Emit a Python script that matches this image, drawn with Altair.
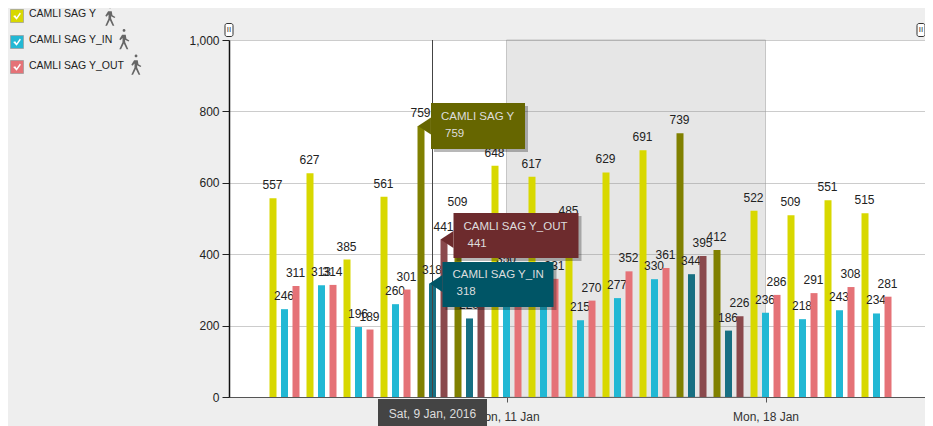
import altair as alt
import pandas as pd

days = pd.date_range("2016-01-05", periods=17, freq="D").strftime("%Y-%m-%d").tolist()
series_names = ["CAMLI SAG Y", "CAMLI SAG Y_IN", "CAMLI SAG Y_OUT"]
totals = [557, 627, 385, 561, 759, 509, 648, 617, 485, 629, 691, 739, 412, 522, 509, 551, 515]
ins = [246, 313, 196, 260, 318, 220, 350, 320, 215, 277, 330, 344, 186, 236, 218, 243, 234]
outs = [311, 314, 189, 301, 441, 280, 300, 331, 270, 352, 361, 395, 226, 286, 291, 308, 281]
tick_days = ["2016-01-11", "2016-01-18"]
band_start, band_end = "2016-01-11", "2016-01-18"
hover_day = "2016-01-09"
hover_label = "Sat, 9 Jan, 2016"
y_ticks = [0, 200, 400, 600, 800, 1000]

NORMAL = ["#d8d800", "#22b8d4", "#e57277"]
DARK = ["#808000", "#176f82", "#8a494c"]
TIP = ["#666600", "#005566", "#6d2b2d"]
FONT = "Liberation Sans"
PLOT_W, PLOT_H = 696, 357


def ms(s):
    return int(pd.Timestamp(s, tz="UTC").value // 10**6)


x_scale = alt.Scale(type="utc", nice=False, padding=0, domain=[ms("2016-01-03T12:00"), ms("2016-01-22T07:27")])
y_scale = alt.Scale(domain=[0, 1000], nice=False)
x_enc = alt.X(
    "day:T",
    scale=x_scale,
    title=None,
    axis=alt.Axis(
        values=[ms(d) for d in tick_days],
        labelExpr="utcFormat(datum.value, '%a, %-d %b')",
        grid=False,
        tickSize=5,
        tickColor="#555555",
        domainColor="#555555",
        labelColor="#333333",
        labelFont=FONT,
        labelFontSize=12,
        labelPadding=9,
        labelFlush=False,
    ),
)
y_enc = alt.Y(
    "value:Q",
    scale=y_scale,
    title=None,
    axis=alt.Axis(
        values=y_ticks,
        format=",d",
        grid=True,
        gridColor="#cccccc",
        tickSize=7,
        tickColor="#222222",
        domainColor="#111111",
        domainWidth=1.5,
        labelColor="#222222",
        labelFont=FONT,
        labelFontSize=12,
        labelPadding=3,
    ),
)

band = (
    alt.Chart(pd.DataFrame({"day": [band_start], "end": [band_end]}))
    .mark_rect(fill="#808080", fillOpacity=0.2, stroke="#999999", strokeOpacity=0.5)
    .encode(x=x_enc, x2="end:T", y=alt.value(0), y2=alt.value(PLOT_H))
)

layers = [band]
offsets = [-11.5, 0, 11.5]
for i, vals in enumerate([totals, ins, outs]):
    df = pd.DataFrame({"day": days, "value": vals})
    wk = pd.to_datetime(df["day"]).dt.dayofweek >= 5
    df["shade"] = wk.map({True: "dark", False: "normal"})
    base = alt.Chart(df)
    layers.append(
        base.mark_bar(width=7, xOffset=offsets[i]).encode(
            x=x_enc,
            y=y_enc,
            color=alt.Color(
                "shade:N",
                legend=None,
                scale=alt.Scale(domain=["normal", "dark"], range=[NORMAL[i], DARK[i]]),
            ),
        )
    )
    layers.append(
        base.mark_text(
            xOffset=offsets[i] - 0.5, dy=-13, font=FONT, fontSize=12, color="#222222", baseline="middle"
        ).encode(x=x_enc, y=y_enc, text=alt.Text("value:Q", format="d"))
    )

# crosshair at the hovered day
layers.append(
    alt.Chart(pd.DataFrame({"day": [hover_day]}))
    .mark_rule(color="#444444", strokeWidth=1)
    .encode(x=x_enc, y=alt.value(0), y2=alt.value(PLOT_H))
)

# callouts anchored to the hovered day's bars: order yellow, red, blue
callouts = [
    (0, totals[4], -11.5, 57, 0, 94, 46),
    (2, outs[4], 11.5, 72, -4, 125, 45),
    (1, ins[4], 0, 65.5, 1, 111, 45),
]
for idx, val, off, bx, by, w, h in callouts:
    d = alt.Chart(pd.DataFrame({"day": [hover_day], "value": [val], "name": [series_names[idx]]}))
    left = off + bx - w / 2
    layers.append(
        d.mark_rect(width=w, height=h, xOffset=off + bx + 3, yOffset=by + 3, color="#000000", opacity=0.28).encode(
            x=x_enc, y=y_enc
        )
    )
    layers.append(
        d.mark_point(
            shape="M0.76,-1L-0.76,0L0.76,1Z",
            size=289,
            filled=True,
            opacity=1,
            color=TIP[idx],
            xOffset=left - 6.5,
        ).encode(x=x_enc, y=y_enc)
    )
    layers.append(d.mark_rect(width=w, height=h, xOffset=off + bx, yOffset=by, color=TIP[idx]).encode(x=x_enc, y=y_enc))
    layers.append(
        d.mark_text(
            xOffset=left + 10, yOffset=by - 9, align="left", baseline="middle", font=FONT, fontSize=11.5, color="#dddddd"
        ).encode(x=x_enc, y=y_enc, text="name:N")
    )
    layers.append(
        d.mark_text(
            xOffset=left + 14, yOffset=by + 8, align="left", baseline="middle", font=FONT, fontSize=11.5, color="#dddddd"
        ).encode(x=x_enc, y=y_enc, text=alt.Text("value:Q", format="d"))
    )

# date flag under the axis
flag = alt.Chart(pd.DataFrame({"day": [hover_day], "label": [hover_label]}))
layers.append(
    flag.mark_rect(width=109, height=28, color="#444444").encode(x=x_enc, y=alt.value(PLOT_H + 16))
)
layers.append(
    flag.mark_text(font=FONT, fontSize=12, color="#dddddd", baseline="middle").encode(
        x=x_enc, y=alt.value(PLOT_H + 17), text="label:N"
    )
)

# legend panel: box centre, text centre, walker centre (rows), walker x
WALKER = (
    "M0,-1A0.16,0.16 0 1 1 0.01,-1Z"
    "M-0.22,-0.66L0.2,-0.66L0.28,-0.2L0.62,0L0.52,0.12L0.12,-0.08L0.14,0.2L0.5,1L0.3,1L-0.02,0.36L-0.34,1L-0.54,1L-0.18,0.2"
    "L-0.16,-0.3L-0.42,-0.04L-0.54,-0.14Z"
)
CHECK = "M-1,0L-0.45,-0.2L-0.1,0.3L0.75,-0.9L1,-0.6L-0.1,1Z"
legend_rows = [(-24, -26, -23, 110), (2, -0.5, 0.5, 124), (27, 26, 26, 136)]
for i, (box_y, text_y, walk_y, walker_x) in enumerate(legend_rows):
    d = alt.Chart(pd.DataFrame({"name": [series_names[i]]}))
    layers.append(
        d.mark_rect(color=NORMAL[i], stroke="#999999", strokeWidth=0.7, width=13, height=13).encode(
            x=alt.value(17 - 229), y=alt.value(box_y)
        )
    )
    layers.append(
        d.mark_point(shape=CHECK, size=60, filled=True, opacity=1, color="#ffffff").encode(
            x=alt.value(17 - 229), y=alt.value(box_y)
        )
    )
    layers.append(
        d.mark_text(align="left", baseline="middle", font=FONT, fontSize=10.5, color="#222222").encode(
            x=alt.value(29 - 229), y=alt.value(text_y), text="name:N"
        )
    )
    layers.append(
        d.mark_point(shape=WALKER, size=300, filled=True, opacity=1, color="#666666").encode(
            x=alt.value(walker_x - 229), y=alt.value(walk_y)
        )
    )

# range handles at both ends of the plot top
for hx in [0, PLOT_W - 4]:
    d = alt.Chart(pd.DataFrame({"k": [1]}))
    layers.append(
        d.mark_rect(width=8, height=13, color="#ffffff", stroke="#333333", strokeWidth=1, cornerRadius=2).encode(
            x=alt.value(hx), y=alt.value(-10)
        )
    )
    layers.append(
        d.mark_text(text="II", font=FONT, fontSize=8, color="#333333", baseline="middle").encode(
            x=alt.value(hx), y=alt.value(-10)
        )
    )

chart = (
    alt.layer(*layers)
    .resolve_scale(color="independent")
    .properties(
        width=PLOT_W,
        height=PLOT_H,
        background="#eeeeee",
        padding={"left": 221, "top": 32, "right": 0, "bottom": 29},
        autosize=alt.AutoSizeParams(type="none"),
    )
    .configure_view(fill="#ffffff", stroke=None)
)

chart.save("out.html", embed_options={"renderer": "svg", "actions": False})
